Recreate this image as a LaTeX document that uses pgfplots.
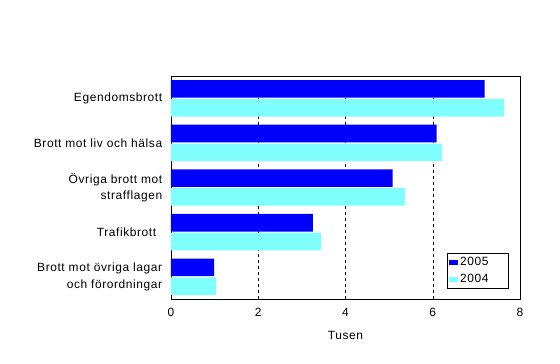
\documentclass[border=0pt]{standalone}
\usepackage{fontspec}
\setmainfont{Liberation Sans}[LetterSpace=5]
\usepackage{pgfplots}
\pgfplotsset{compat=1.18}
\definecolor{cblue}{HTML}{0000FF}
\definecolor{ccyan}{HTML}{80FFFF}
\begin{document}
\begin{tikzpicture}
\useasboundingbox (-171bp,-65bp) rectangle (389bp,299bp);
\begin{axis}[
  at={(0,0)}, anchor=south west,
  width=349bp, height=223bp, scale only axis,
  xbar, bar width=17.6bp,
  xmin=0, xmax=8, ymin=-0.5, ymax=4.5,
  xtick={0,2,4,6,8}, ytick={0,1,2,3,4},
  yticklabels={{Brott mot övriga lagar\\och förordningar},{Trafikbrott\hspace{6bp}},{Övriga brott mot\\strafflagen},{Brott mot liv och hälsa},{Egendomsbrott}},
  /pgf/number format/assume math mode=true,
  tick style={draw=none},
  xmajorgrids,
  major grid style={black, dash pattern=on 3bp off 3bp},
  axis line style={black, line width=0.8bp},
  ticklabel style={font=\fontsize{12}{16.5}\selectfont},
  xticklabel style={yshift=-6bp},
  yticklabel style={align=right, xshift=-1bp},
  xlabel={Tusen},
  xlabel style={font=\fontsize{12}{14}\selectfont, yshift=-7bp},
  legend style={draw=black, line width=0.8bp, at={(0.968,0.045)}, anchor=south east,
    font=\fontsize{12}{14}\selectfont, cells={anchor=west},
    inner xsep=2bp, inner ysep=2.5bp, row sep=3bp},
  legend image code/.code={\fill[#1] (0bp,-2.5bp) rectangle (9bp,2.5bp);},
]
\addplot[fill=cblue, draw=none, bar shift=9.4bp] coordinates {(7.19,4) (6.09,3) (5.08,2) (3.25,1) (0.99,0)};
\addplot[fill=ccyan, draw=none, bar shift=-9.4bp] coordinates {(7.63,4) (6.21,3) (5.36,2) (3.44,1) (1.03,0)};
\legend{2005\rule{16bp}{0pt},2004}
\end{axis}
\end{tikzpicture}
\end{document}
